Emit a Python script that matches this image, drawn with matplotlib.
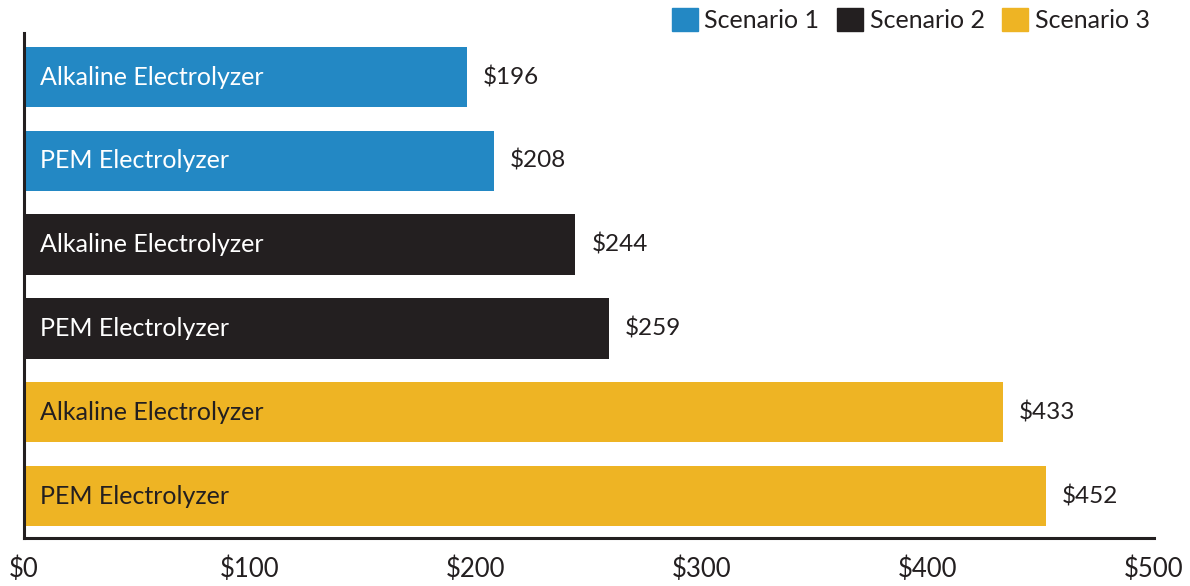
import matplotlib
matplotlib.use("Agg")
import matplotlib.pyplot as plt
from matplotlib.patches import Patch

plt.rcParams['font.family'] = ['Lato', 'DejaVu Sans']

labels = ["Alkaline Electrolyzer", "PEM Electrolyzer",
          "Alkaline Electrolyzer", "PEM Electrolyzer",
          "Alkaline Electrolyzer", "PEM Electrolyzer"]
values = [196, 208, 244, 259, 433, 452]
scenarios = ["Scenario 1", "Scenario 1", "Scenario 2", "Scenario 2", "Scenario 3", "Scenario 3"]
scenario_names = ["Scenario 1", "Scenario 2", "Scenario 3"]
scenario_colors = {"Scenario 1": "#2388c4", "Scenario 2": "#231f20", "Scenario 3": "#eeb424"}
text_colors = {"Scenario 1": "white", "Scenario 2": "white", "Scenario 3": "#231f20"}
xticks = [0, 100, 200, 300, 400, 500]
xticklabels = ["$0", "$100", "$200", "$300", "$400", "$500"]

W, H = 1190, 586
fig = plt.figure(figsize=(W / 100, H / 100), dpi=100)
ax = fig.add_axes([24 / W, (H - 538) / H, (1154 - 24) / W, (538 - 33) / H])

dark = "#231f20"
ys = list(range(len(values)))
ax.barh(ys, values, height=0.72, color=[scenario_colors[s] for s in scenarios])
for y, v, lab, s in zip(ys, values, labels, scenarios):
    ax.text(7, y, lab, va='center', ha='left', fontsize=18, color=text_colors[s])
    ax.text(v + 7, y, f"${v}", va='center', ha='left', fontsize=17.5, color=dark)

ax.set_xlim(0, 500)
ax.set_ylim(5.5, -0.525)
ax.set_xticks(xticks)
ax.set_xticklabels(xticklabels, fontsize=18.5, color=dark)
ax.set_yticks([])
ax.tick_params(axis='x', length=0, pad=13)
for sp in ['top', 'right']:
    ax.spines[sp].set_visible(False)
for sp in ['left', 'bottom']:
    ax.spines[sp].set_color(dark)
    ax.spines[sp].set_linewidth(2.2)

handles = [Patch(color=scenario_colors[n], label=n) for n in scenario_names]
fig.legend(handles=handles, loc='upper right', bbox_to_anchor=(1150 / W, 1 - 8 / H),
           ncol=3, frameon=False, fontsize=18, handlelength=1.03, handleheight=1.03,
           handletextpad=0.28, columnspacing=0.7, borderpad=0, borderaxespad=0,
           labelcolor=dark)

fig.savefig("out.png", dpi=100)
